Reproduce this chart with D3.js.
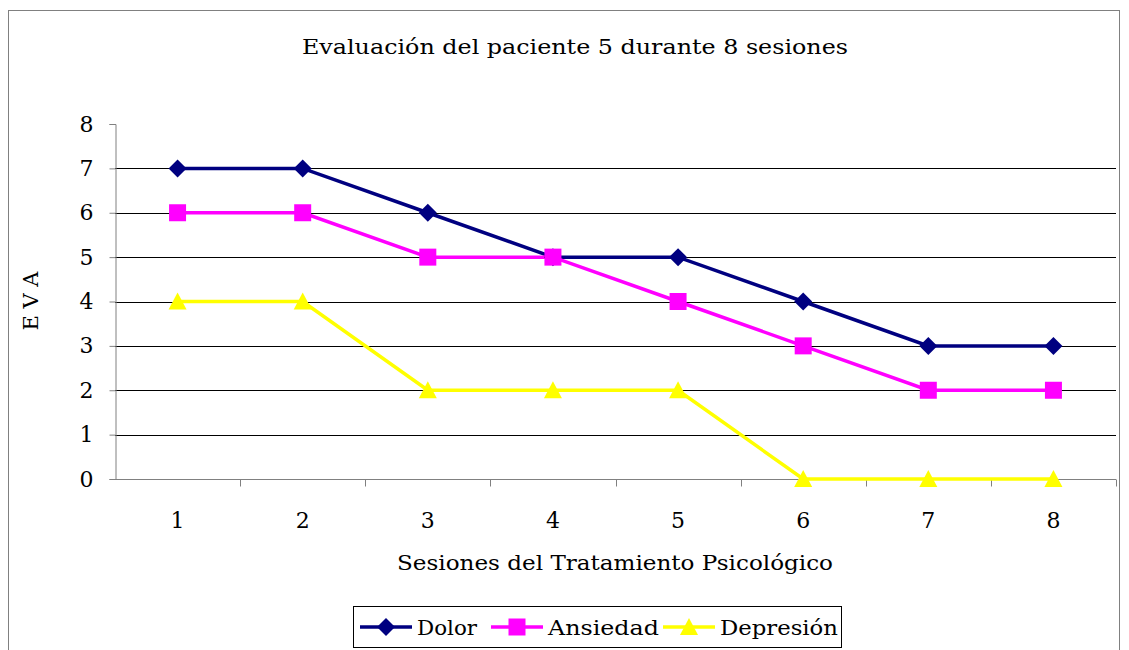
<!DOCTYPE html>
<html>
<head>
<meta charset="utf-8">
<script src="https://cdn.jsdelivr.net/npm/d3@7"></script>
<style>
  body { margin: 0; background: #fff; }
  text { font-family: "DejaVu Serif", serif; fill: #000; }
</style>
</head>
<body>
<div id="chart"></div>
<script>
var sessions = [1, 2, 3, 4, 5, 6, 7, 8];
var dolor = [7, 7, 6, 5, 5, 4, 3, 3];
var ansiedad = [6, 6, 5, 5, 4, 3, 2, 2];
var depresion = [4, 4, 2, 2, 2, 0, 0, 0];
var seriesNames = ["Dolor", "Ansiedad", "Depresión"];
var seriesColors = ["#000080", "#ff00ff", "#ffff00"];
var yTicks = [0, 1, 2, 3, 4, 5, 6, 7, 8];

var W = 1129, H = 650;
var margin = { top: 124, right: 13, bottom: 171, left: 115 },
  width = W - margin.left - margin.right,
  height = H - margin.top - margin.bottom;

var svg = d3.select("#chart").append("svg")
  .attr("width", W)
  .attr("height", H);

// outer frame
svg.append("rect")
  .attr("x", 8.5).attr("y", 10.5)
  .attr("width", 1111).attr("height", 645)
  .attr("fill", "none").attr("stroke", "#808080");

svg.append("text")
  .attr("x", 575).attr("y", 54)
  .attr("text-anchor", "middle")
  .attr("textLength", 546).attr("lengthAdjust", "spacingAndGlyphs")
  .style("font-size", "21px")
  .text("Evaluación del paciente 5 durante 8 sesiones");

var g = svg.append("g")
  .attr("transform", "translate(" + margin.left + "," + margin.top + ")");

var x = d3.scaleBand().domain(sessions).range([0, width]);
var y = d3.scaleLinear().domain([0, 8]).range([height, 0]);

// gridlines
g.selectAll(".grid").data(yTicks.filter(function (d) { return d > 0 && d < 8; }))
  .enter().append("line")
  .attr("x1", 0).attr("x2", width)
  .attr("y1", function (d) { return Math.round(y(d)) + 0.5; })
  .attr("y2", function (d) { return Math.round(y(d)) + 0.5; })
  .attr("stroke", "#000").attr("stroke-width", 1);

// y axis
var yAxis = g.append("g").attr("transform", "translate(0.5,0)")
  .call(d3.axisLeft(y).tickValues(yTicks).tickSize(6).tickPadding(16));
yAxis.select(".domain").attr("stroke", "#808080");
yAxis.selectAll(".tick line").attr("stroke", "#808080");
yAxis.selectAll("text").style("font-size", "22px").attr("font-family", null);

// x axis with ticks between categories
var xAxis = g.append("g").attr("transform", "translate(0," + (Math.round(height) + 0.5) + ")");
xAxis.append("line").attr("x1", 0).attr("x2", width).attr("stroke", "#808080");
xAxis.selectAll(".xt").data(sessions).enter().append("line")
  .attr("x1", function (d) { return Math.round(x(d) + x.bandwidth()) + 0.5; })
  .attr("x2", function (d) { return Math.round(x(d) + x.bandwidth()) + 0.5; })
  .attr("y1", 0).attr("y2", 7)
  .attr("stroke", "#808080");
xAxis.selectAll(".xl").data(sessions).enter().append("text")
  .attr("x", function (d) { return x(d) + x.bandwidth() / 2; })
  .attr("y", 48)
  .attr("text-anchor", "middle")
  .style("font-size", "22px")
  .text(function (d) { return d; });

svg.append("text")
  .attr("x", 615).attr("y", 570)
  .attr("text-anchor", "middle")
  .attr("textLength", 436).attr("lengthAdjust", "spacingAndGlyphs")
  .style("font-size", "21px")
  .text("Sesiones del Tratamiento Psicológico");

svg.append("text")
  .attr("transform", "translate(38,301) rotate(-90)")
  .attr("text-anchor", "middle")
  .style("font-size", "21px")
  .text("E V A");

var allSeries = [dolor, ansiedad, depresion];

// marker shapes, drawn around 0,0
function marker(k) {
  if (k === 0) return "M0,-9L9,0L0,9L-9,0Z";
  if (k === 1) return "M-8.5,-8.5H8.5V8.5H-8.5Z";
  return "M0,-9L9,8L-9,8Z";
}

var line = d3.line()
  .x(function (d, i) { return x(sessions[i]) + x.bandwidth() / 2; })
  .y(function (d) { return y(d); });

allSeries.forEach(function (s, k) {
  g.append("path").datum(s)
    .attr("d", line)
    .attr("fill", "none")
    .attr("stroke", seriesColors[k])
    .attr("stroke-width", 3.5);
});
allSeries.forEach(function (s, k) {
  g.selectAll(".m" + k).data(s).enter().append("path")
    .attr("transform", function (d, i) {
      return "translate(" + (x(sessions[i]) + x.bandwidth() / 2) + "," + y(d) + ")";
    })
    .attr("d", marker(k))
    .attr("fill", seriesColors[k]);
});

// legend
var lg = svg.append("g");
lg.append("rect")
  .attr("x", 353.5).attr("y", 606.5)
  .attr("width", 488).attr("height", 41)
  .attr("fill", "#fff").attr("stroke", "#000");
var legendX = [360, 491, 663];
var legendTextW = [60, 111, 118];
seriesNames.forEach(function (name, k) {
  var item = lg.append("g").attr("transform", "translate(" + legendX[k] + ",627)");
  item.append("line").attr("x1", 0).attr("x2", 52)
    .attr("stroke", seriesColors[k]).attr("stroke-width", 3.5);
  item.append("path").attr("transform", "translate(26,0)")
    .attr("d", marker(k))
    .attr("fill", seriesColors[k]);
  item.append("text").attr("x", 57).attr("y", 8)
    .attr("textLength", legendTextW[k]).attr("lengthAdjust", "spacingAndGlyphs")
    .style("font-size", "21px")
    .text(name);
});
</script>
</body>
</html>
